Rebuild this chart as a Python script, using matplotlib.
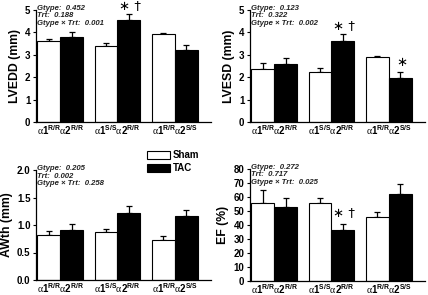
import matplotlib
matplotlib.use("Agg")
import matplotlib.pyplot as plt
import numpy as np
from matplotlib.patches import Patch

plt.rcParams['font.family'] = ['Liberation Sans', 'DejaVu Sans']
plt.rcParams['mathtext.fontset'] = 'custom'
plt.rcParams['mathtext.rm'] = 'Liberation Serif'
plt.rcParams['mathtext.bf'] = 'Liberation Sans:bold'
plt.rcParams['mathtext.it'] = 'Liberation Sans:bold:italic'

groups = [r'$\mathrm{\alpha}\mathbf{1^{R/R}}\mathrm{\alpha}\mathbf{2^{R/R}}$',
          r'$\mathrm{\alpha}\mathbf{1^{S/S}}\mathrm{\alpha}\mathbf{2^{R/R}}$',
          r'$\mathrm{\alpha}\mathbf{1^{R/R}}\mathrm{\alpha}\mathbf{2^{S/S}}$']

lvedd_sham = [3.60, 3.40, 3.95]
lvedd_sham_err = [0.10, 0.13, 0.03]
lvedd_tac = [3.80, 4.55, 3.22]
lvedd_tac_err = [0.20, 0.28, 0.22]

lvesd_sham = [2.35, 2.25, 2.88]
lvesd_sham_err = [0.30, 0.18, 0.08]
lvesd_tac = [2.60, 3.62, 1.95]
lvesd_tac_err = [0.25, 0.33, 0.27]

awth_sham = [0.82, 0.87, 0.72]
awth_sham_err = [0.07, 0.05, 0.08]
awth_tac = [0.91, 1.21, 1.17]
awth_tac_err = [0.11, 0.14, 0.10]

ef_sham = [56.0, 55.5, 45.5]
ef_sham_err = [9.0, 3.5, 3.5]
ef_tac = [53.0, 36.5, 62.5]
ef_tac_err = [6.0, 4.5, 6.5]

stats = {
    'LVEDD': ('0.452', '0.188', '0.001'),
    'LVESD': ('0.123', '0.322', '0.002'),
    'AWth': ('0.205', '0.002', '0.258'),
    'EF': ('0.272', '0.717', '0.025'),
}

W, H = 428, 295
fig = plt.figure(figsize=(W / 100, H / 100), dpi=100)

def make_ax(x0, x1, ytop, ybot):
    return fig.add_axes([x0 / W, 1 - ybot / H, (x1 - x0) / W, (ybot - ytop) / H])

panels = [
    dict(rect=(36, 211, 10, 122), sham=lvedd_sham, se=lvedd_sham_err, tac=lvedd_tac, te=lvedd_tac_err,
         ylim=(0, 5), ticks=np.arange(0, 6, 1), fmt='%d', ylabel='LVEDD (mm)', key='LVEDD',
         marks=[(1, 5.2, '∗ †')]),
    dict(rect=(250, 425, 10, 122), sham=lvesd_sham, se=lvesd_sham_err, tac=lvesd_tac, te=lvesd_tac_err,
         ylim=(0, 5), ticks=np.arange(0, 6, 1), fmt='%d', ylabel='LVESD (mm)', key='LVESD',
         marks=[(1, 4.3, '∗ †'), (2, 2.65, '∗')]),
    dict(rect=(36, 211, 170, 280), sham=awth_sham, se=awth_sham_err, tac=awth_tac, te=awth_tac_err,
         ylim=(0, 2), ticks=np.arange(0, 2.01, 0.5), fmt='%.1f', ylabel='AWth (mm)', key='AWth',
         marks=[]),
    dict(rect=(250, 425, 169, 281), sham=ef_sham, se=ef_sham_err, tac=ef_tac, te=ef_tac_err,
         ylim=(0, 80), ticks=np.arange(0, 81, 10), fmt='%d', ylabel='EF (%)', key='EF',
         marks=[(1, 49.0, '∗ †')]),
]

x = np.arange(3)
bw = 0.4
for p in panels:
    ax = make_ax(*p['rect'])
    ax.bar(x - bw / 2, p['sham'], bw, color='white', edgecolor='black', linewidth=0.8, zorder=2)
    ax.bar(x + bw / 2, p['tac'], bw, color='black', edgecolor='black', linewidth=0.8, zorder=2)
    ax.errorbar(x - bw / 2, p['sham'], yerr=[np.zeros(3), p['se']], fmt='none',
                ecolor='black', elinewidth=0.9, capsize=2, capthick=0.9, zorder=1)
    ax.errorbar(x + bw / 2, p['tac'], yerr=[np.zeros(3), p['te']], fmt='none',
                ecolor='black', elinewidth=0.9, capsize=2, capthick=0.9, zorder=1)
    ax.set_xlim(-0.42, 2.63)
    ax.set_ylim(*p['ylim'])
    ax.set_yticks(p['ticks'])
    ax.set_yticklabels([p['fmt'] % t for t in p['ticks']], fontsize=7, fontweight='bold')
    ax.set_xticks(x)
    ax.set_xticklabels(groups, fontsize=7)
    ax.tick_params(axis='x', length=0, pad=1)
    ax.tick_params(axis='y', length=2.5, width=0.8, pad=1.5)
    for s in ['top', 'right']:
        ax.spines[s].set_visible(False)
    for s in ['left', 'bottom']:
        ax.spines[s].set_linewidth(0.9)
    ax.set_ylabel(p['ylabel'], fontsize=8.8, fontweight='bold', labelpad=3)
    g, t, gt = stats[p['key']]
    ax.text(0.005, 1.045, 'Gtype:  ' + g + '\nTrt:  ' + t + '\nGtype × Trt:  ' + gt,
            transform=ax.transAxes, fontsize=5.6, fontweight='bold', fontstyle='italic',
            va='top', ha='left', linespacing=1.1, color='#222222')
    for gi, yv, s in p['marks']:
        ax.text(gi + bw / 2 + 0.02, yv, s, fontsize=9.5, fontweight='normal', ha='center', va='center',
                family=['DejaVu Sans'], clip_on=False)

handles = [Patch(facecolor='white', edgecolor='black', linewidth=0.8, label='Sham'),
           Patch(facecolor='black', edgecolor='black', linewidth=0.8, label='TAC')]
fs = 7
fig.legend(handles=handles, loc='upper left', bbox_to_anchor=(147 / W, 1 - 150 / H),
           frameon=False, prop={'weight': 'bold', 'size': fs},
           handlelength=2.35, handleheight=0.85, labelspacing=0.35, handletextpad=0.3,
           borderpad=0, borderaxespad=0)

fig.savefig('out.png', dpi=100)
